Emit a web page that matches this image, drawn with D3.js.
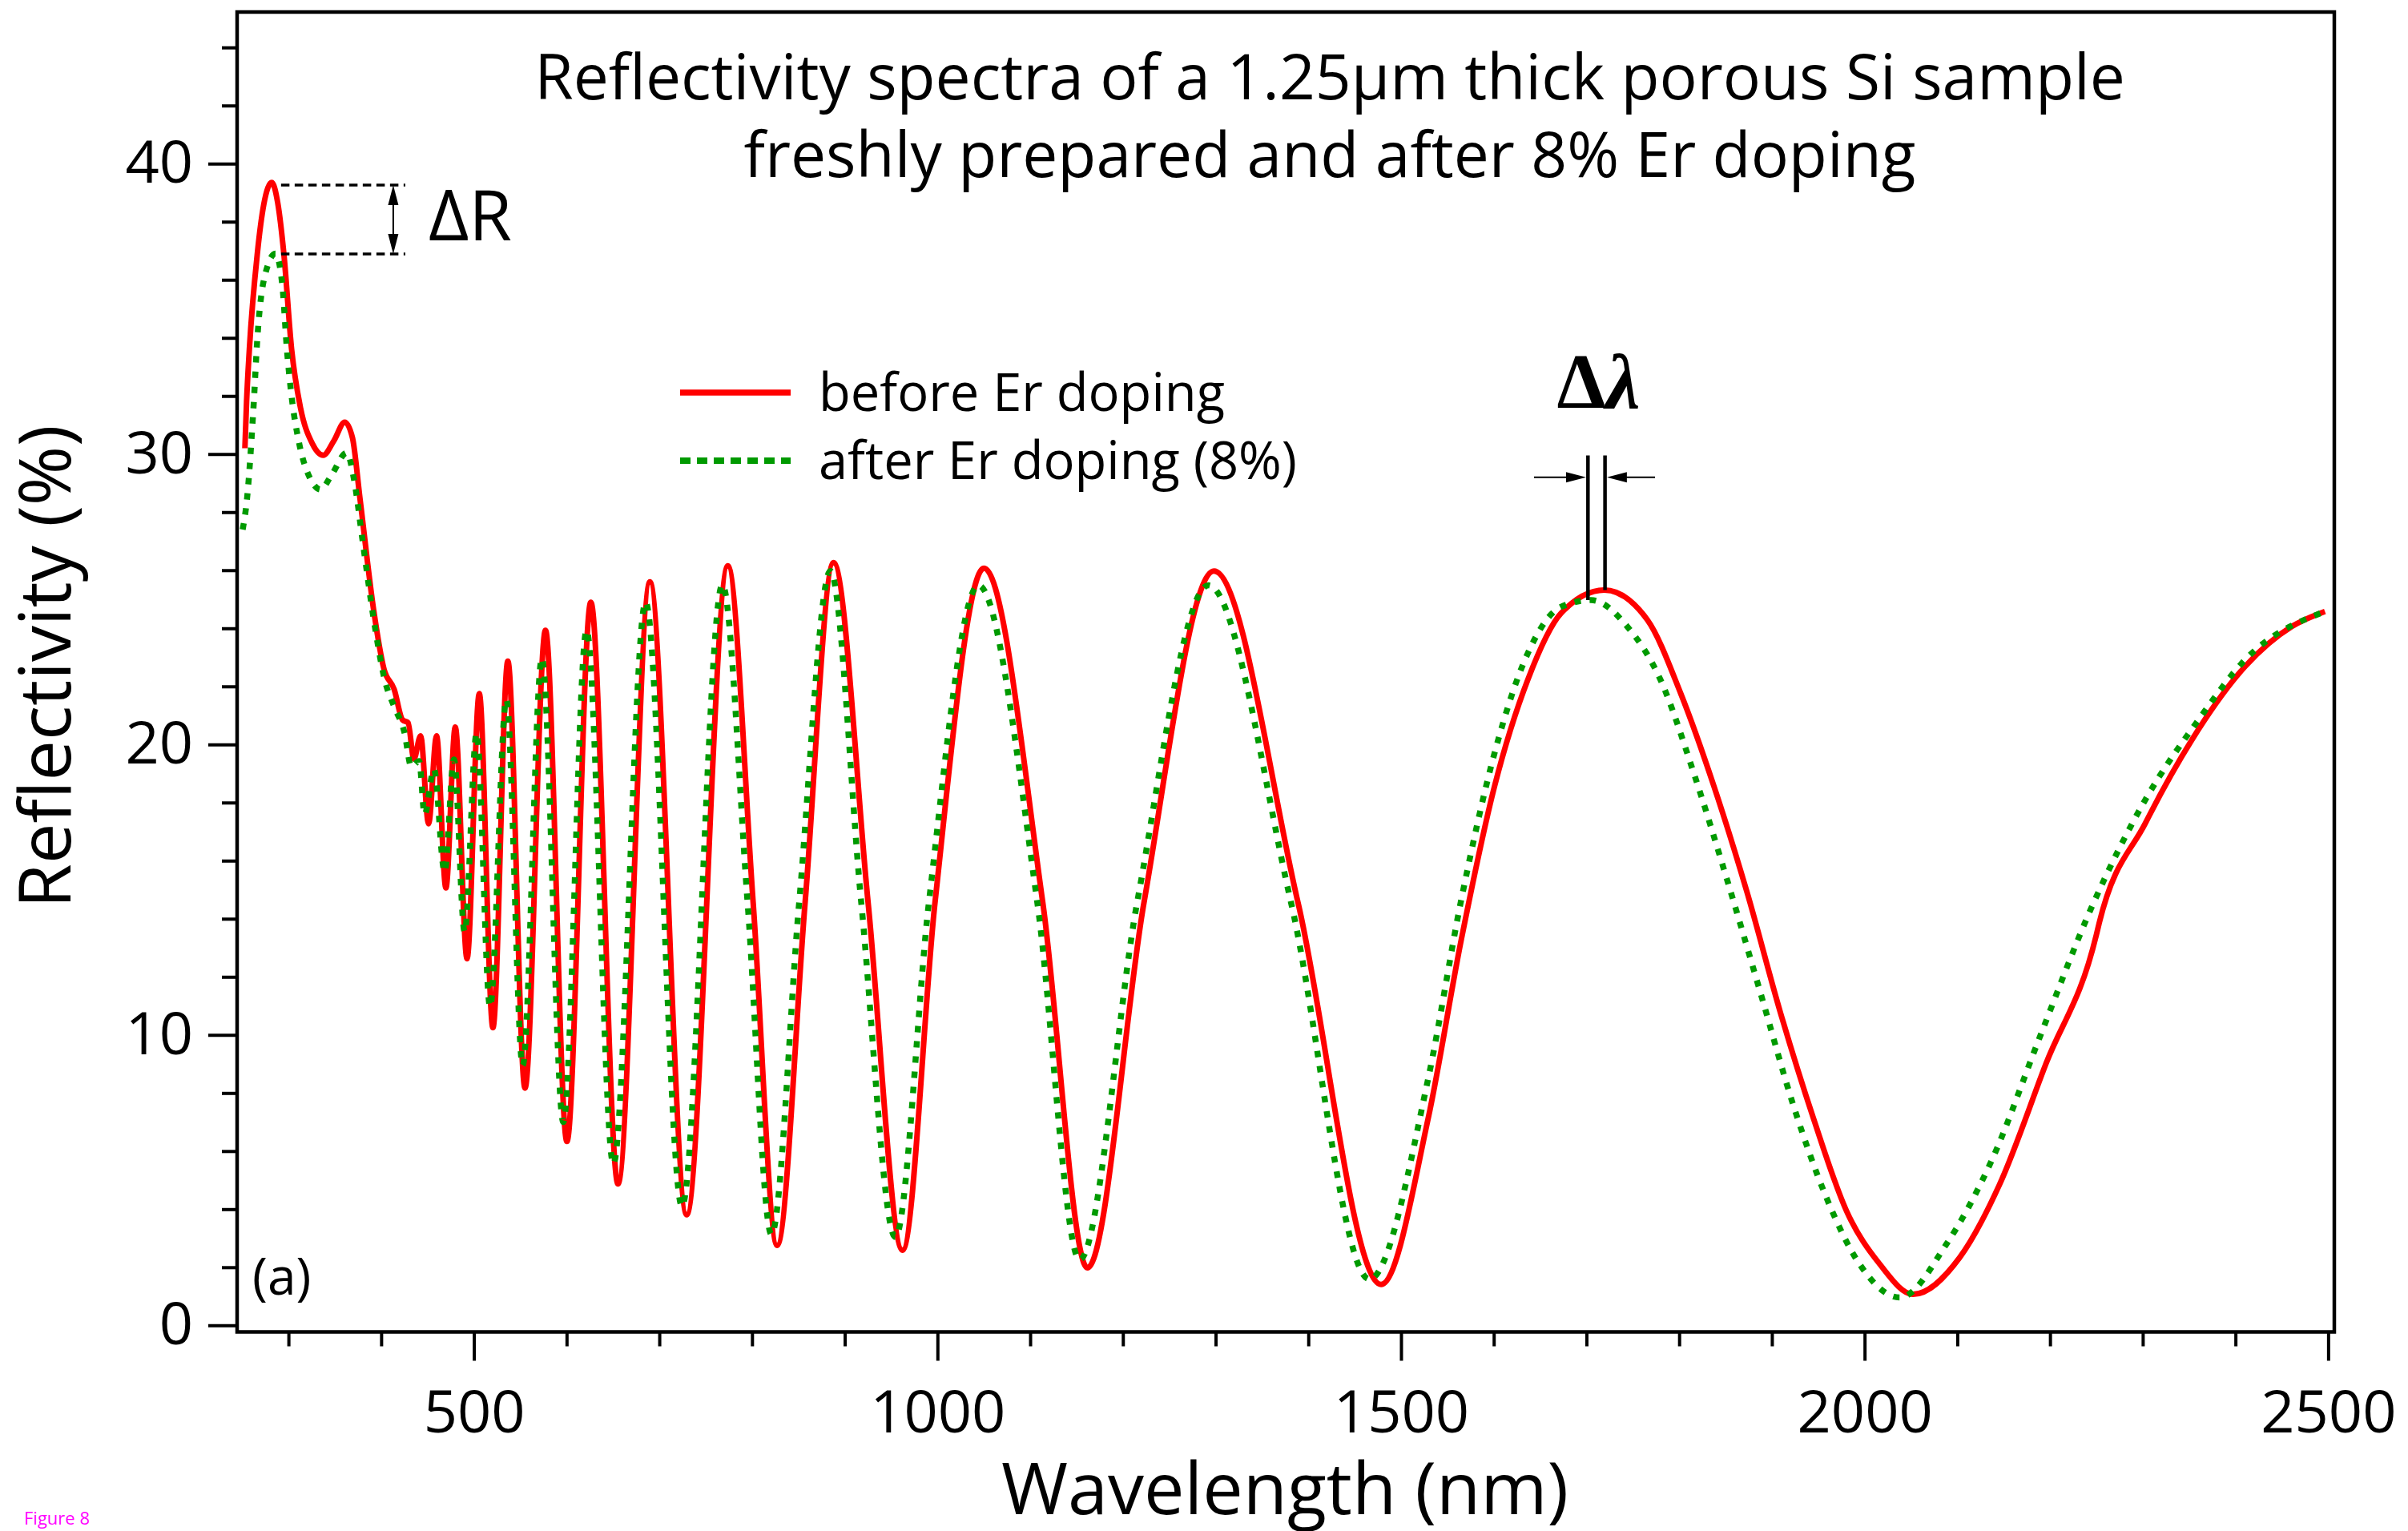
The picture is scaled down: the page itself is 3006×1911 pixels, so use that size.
<!DOCTYPE html>
<html>
<head>
<meta charset="utf-8">
<script src="https://cdn.jsdelivr.net/npm/d3@7"></script>
<style>
  body { margin: 0; background: #fff; }
  svg { display: block; font-family: 'Open Sans', sans-serif; }
  .tick line { stroke: #000; stroke-width: 4; }
  .tick text { font-size: 74px; fill: #000; font-family: 'Open Sans', sans-serif; }
</style>
</head>
<body>
<svg id="chart"></svg>
<script>
// reflectivity before Er doping (wavelength nm, R %)
const beforeWl = [253, 254.8, 257.8, 266.4, 273.4, 282, 288.4, 295, 303.4, 312.6, 325.9, 337.4, 349, 360.7, 369, 377,
  392, 403, 414, 423, 429, 435.3, 442.5, 451.1, 459.7, 469.8, 479.9, 492.6, 505.8, 520.5, 536.6, 555.1, 577.2,
  600.3, 626.1, 655.4, 689.8, 729.5, 773.9, 801.2, 827, 857.2, 887.9, 925.2, 962.3, 997.3, 1050.2, 1113.6,
  1161.7, 1222.7, 1298.2, 1388.9, 1478.5, 1529.3, 1565.1, 1600.9, 1636.7, 1672.6, 1719.2, 1765.7, 1801.5,
  1837.4, 1873.2, 1909, 1944.8, 1980.6, 2016.5, 2052.2, 2102.4, 2145.4, 2195.5, 2250, 2253, 2303, 2353.2,
  2410.5, 2460.7, 2496.5];
const beforeR = [30.2, 31.8, 33.6, 36.9, 38.6, 39.35, 38.65, 36.9, 33.6, 31.65, 30.35, 29.96, 30.46, 31.1, 30.56, 28.5,
  24.6, 22.6, 21.9, 20.85, 20.75, 19.5, 20.3, 17.27, 20.3, 15.06, 20.6, 12.62, 21.75, 10.25, 22.87, 8.17, 23.93,
  6.33, 24.9, 4.87, 25.6, 3.81, 26.15, 14.55, 2.75, 14.55, 26.26, 14.55, 2.59, 14.55, 26.07, 14.55,
  1.98, 14.55, 25.97, 14.55, 1.41, 7.13, 13.3, 18.57, 22.23, 24.52, 25.32, 24.29, 21.77,
  18.57, 14.91, 10.79, 7.13, 3.93, 2.1, 1.07, 2.33, 4.84, 9.0, 13.45, 13.85, 17.3, 20.17,
  22.69, 24.06, 24.58];

// reflectivity after 8% Er doping
const afterWl = [250.6, 255.4, 262, 266.9, 273.5, 286, 293.4, 298.3, 303.3, 311.6, 323.2, 334.7, 346.3, 362.8, 371.1,
  380, 392, 404, 414, 425.2, 432.4, 441, 446.8, 456.9, 468.4, 478.5, 490, 502.9, 517.4, 535, 552.6, 573.3,
  596.4, 621.5, 650.4, 685.2, 724.4, 768, 795.2, 820.9, 850.8, 884.5, 917.8, 954.5, 990.7, 1044.2, 1107.7,
  1153.3, 1215.3, 1292.2, 1381.4, 1465.8, 1529.3, 1565.1, 1600.9, 1636.7, 1672.6, 1705, 1744, 1779.8,
  1815.6, 1851.4, 1887.4, 1923, 1958.9, 1994.7, 2037.9, 2088.1, 2138.2, 2188.4, 2245.6, 2303, 2360.4,
  2410.5, 2496.5];
const afterR = [27.4, 28.5, 31.46, 34.2, 36.0, 36.9, 35.8, 33.6, 32.0, 30.36, 29.17, 28.78, 29.27, 30.04, 29.05,
  27.0, 24.3, 22.2, 21.3, 20.4, 19.24, 19.43, 17.59, 19.15, 15.61, 19.48, 13.54, 20.39, 10.97, 21.55, 8.95, 22.97,
  7.0, 23.93, 5.56, 24.9, 4.1, 25.5, 14.55, 3.13, 14.55, 25.97, 14.55, 3.04, 14.55, 25.48, 14.55,
  2.26, 14.55, 25.48, 14.55, 1.59, 8.5, 14.68, 19.71, 23.14, 24.74, 24.97, 24.06, 22.23,
  19.03, 15.37, 11.48, 7.59, 4.39, 2.1, 0.96, 2.79, 5.76, 9.88, 14.45, 18.11, 20.86,
  22.92, 24.58];

const seriesNames = ['before Er doping', 'after Er doping (8%)'];
const seriesColors = ['#ff0000', '#009a00'];

const xMajorTicks = [500, 1000, 1500, 2000, 2500];
const xMinorTicks = [300, 400, 600, 700, 800, 900, 1100, 1200, 1300, 1400, 1600, 1700, 1800, 1900,
  2100, 2200, 2300, 2400];
const yMajorTicks = [0, 10, 20, 30, 40];
const yMinorTicks = [2, 4, 6, 8, 12, 14, 16, 18, 22, 24, 26, 28, 32, 34, 36, 38, 42, 44];

const titleLines = ['Reflectivity spectra of a 1.25\u03bcm thick porous Si sample',
  'freshly prepared and after 8% Er doping'];

// annotation values
const deltaR = { top: 39.26, bottom: 36.89, from: 292, to: 426, arrowAt: 413 };
const deltaLambda = { green: 1701.6, greenPeak: 24.97, red: 1720, redPeak: 25.32, top: 29.95, arrowY: 29.2 };

class ReflectivityChart {

    constructor(_config) {
        this.config = {
            parentElement: _config.parentElement,
            containerWidth: _config.containerWidth || 3006,
            containerHeight: _config.containerHeight || 1911,
        };
        this.config.margin = _config.margin || { top: 15, right: 92, bottom: 248.5, left: 296 };
        this.initVis();
    }

    initVis() {
        let vis = this;
        const m = vis.config.margin;

        vis.width = vis.config.containerWidth - m.left - m.right;
        vis.height = vis.config.containerHeight - m.top - m.bottom;

        vis.svg = d3.select(vis.config.parentElement)
            .attr('width', vis.config.containerWidth)
            .attr('height', vis.config.containerHeight);

        vis.chart = vis.svg.append('g')
            .attr('transform', `translate(${m.left}, ${m.top})`);

        vis.xScale = d3.scaleLinear()
            .domain([244.6, 2506.6])
            .range([0, vis.width]);

        vis.yScale = d3.scaleLinear()
            .domain([-0.226, 45.22])
            .range([vis.height, 0]);

        // minor ticks first, majors with labels on top
        vis.chart.append('g')
            .attr('transform', `translate(0, ${vis.height})`)
            .call(d3.axisBottom(vis.xScale).tickValues(xMinorTicks).tickSize(18).tickFormat(''))
            .call(g => g.select('.domain').remove());

        vis.chart.append('g')
            .attr('transform', `translate(0, ${vis.height})`)
            .call(d3.axisBottom(vis.xScale).tickValues(xMajorTicks).tickSize(36).tickPadding(37).tickFormat(d3.format('d')))
            .call(g => g.select('.domain').remove());

        vis.chart.append('g')
            .call(d3.axisLeft(vis.yScale).tickValues(yMinorTicks).tickSize(19).tickFormat(''))
            .call(g => g.select('.domain').remove());

        vis.chart.append('g')
            .call(d3.axisLeft(vis.yScale).tickValues(yMajorTicks).tickSize(36).tickPadding(19).tickFormat(d3.format('d')))
            .call(g => g.select('.domain').remove());

        // frame
        vis.chart.append('rect')
            .attr('x', 0).attr('y', 0)
            .attr('width', vis.width).attr('height', vis.height)
            .attr('fill', 'none')
            .attr('stroke', '#000')
            .attr('stroke-width', 4.5);

        vis.svg.append('text')
            .attr('x', 1604)
            .attr('y', 1890)
            .attr('text-anchor', 'middle')
            .attr('font-size', 90)
            .text('Wavelength (nm)');

        vis.svg.append('text')
            .attr('transform', 'translate(88, 832) rotate(-90)')
            .attr('text-anchor', 'middle')
            .attr('font-size', 90)
            .text('Reflectivity (%)');

        vis.svg.append('g')
            .selectAll('text')
            .data(titleLines)
            .join('text')
                .attr('x', 1660)
                .attr('y', (d, i) => 124 + i * 97)
                .attr('text-anchor', 'middle')
                .attr('font-size', 78.5)
                .text(d => d);

        vis.svg.append('text')
            .attr('x', 315)
            .attr('y', 1616)
            .attr('font-size', 64)
            .text('(a)');

        vis.svg.append('text')
            .attr('x', 30)
            .attr('y', 1903)
            .attr('font-size', 22)
            .attr('fill', '#ff00ff')
            .text('Figure 8');
    }

    arrowHead(g, x, y, dx, dy) {
        // filled triangle, tip at (x, y), pointing along (dx, dy)
        const len = 25, hw = 6.5;
        const bx = x - dx * len, by = y - dy * len;
        const px = -dy * hw, py = dx * hw;
        g.append('path')
            .attr('d', `M${x},${y}L${bx + px},${by + py}L${bx - px},${by - py}Z`)
            .attr('fill', '#000');
    }

    render() {
        let vis = this;

        const line = d3.line()
            .x(d => vis.xScale(d[0]))
            .y(d => vis.yScale(d[1]))
            .curve(d3.curveMonotoneX);

        const series = [
            { name: seriesNames[0], values: d3.zip(beforeWl, beforeR), color: seriesColors[0], dash: null, width: 7 },
            { name: seriesNames[1], values: d3.zip(afterWl, afterR), color: seriesColors[1], dash: '8,11', width: 7.5 },
        ];

        // draw dotted on top so both stay visible
        vis.chart.append('g')
            .selectAll('path')
            .data(series)
            .join('path')
                .attr('d', d => line(d.values))
                .attr('fill', 'none')
                .attr('stroke', d => d.color)
                .attr('stroke-width', d => d.width)
                .attr('stroke-dasharray', d => d.dash)
                .attr('stroke-linejoin', 'round');

        // legend
        const legend = vis.svg.append('g');
        const legendItems = legend.selectAll('g')
            .data(series)
            .join('g')
                .attr('transform', (d, i) => `translate(849, ${490 + i * 85})`);
        legendItems.append('line')
            .attr('x1', 0).attr('x2', 138)
            .attr('stroke', d => d.color)
            .attr('stroke-width', d => d.width + 0.5)
            .attr('stroke-dasharray', d => d.dash ? '13,8' : null);
        legendItems.append('text')
            .attr('x', 173)
            .attr('y', 23)
            .attr('font-size', 65)
            .text(d => d.name);

        // delta R marker
        const ann = vis.chart.append('g');
        [deltaR.top, deltaR.bottom].forEach(v => {
            ann.append('line')
                .attr('x1', vis.xScale(deltaR.from)).attr('x2', vis.xScale(deltaR.to))
                .attr('y1', vis.yScale(v)).attr('y2', vis.yScale(v))
                .attr('stroke', '#000')
                .attr('stroke-width', 3.5)
                .attr('stroke-dasharray', '10.5,6.5');
        });
        const ax = vis.xScale(deltaR.arrowAt);
        ann.append('line')
            .attr('x1', ax).attr('x2', ax)
            .attr('y1', vis.yScale(deltaR.top) + 20).attr('y2', vis.yScale(deltaR.bottom) - 20)
            .attr('stroke', '#000').attr('stroke-width', 2);
        vis.arrowHead(ann, ax, vis.yScale(deltaR.top), 0, -1);
        vis.arrowHead(ann, ax, vis.yScale(deltaR.bottom), 0, 1);
        ann.append('text')
            .attr('x', vis.xScale(451))
            .attr('y', vis.yScale(37.35))
            .attr('font-size', 87)
            .text('\u0394R');

        // delta lambda marker
        const gx = vis.xScale(deltaLambda.green), rx = vis.xScale(deltaLambda.red);
        const topY = vis.yScale(deltaLambda.top), arY = vis.yScale(deltaLambda.arrowY);
        ann.append('line')
            .attr('x1', gx).attr('x2', gx)
            .attr('y1', topY).attr('y2', vis.yScale(deltaLambda.greenPeak))
            .attr('stroke', '#000').attr('stroke-width', 4.5);
        ann.append('line')
            .attr('x1', rx).attr('x2', rx)
            .attr('y1', topY).attr('y2', vis.yScale(deltaLambda.redPeak))
            .attr('stroke', '#000').attr('stroke-width', 4.5);
        ann.append('line')
            .attr('x1', vis.xScale(1643.4)).attr('x2', gx - 15)
            .attr('y1', arY).attr('y2', arY)
            .attr('stroke', '#000').attr('stroke-width', 2);
        vis.arrowHead(ann, gx - 2.3, arY, 1, 0);
        ann.append('line')
            .attr('x1', vis.xScale(1773.9)).attr('x2', rx + 15)
            .attr('y1', arY).attr('y2', arY)
            .attr('stroke', '#000').attr('stroke-width', 2);
        vis.arrowHead(ann, rx + 2.3, arY, -1, 0);

        const dl = ann.append('text')
            .attr('x', vis.xScale(1713))
            .attr('y', vis.yScale(31.6))
            .attr('text-anchor', 'middle')
            .attr('font-family', "'Liberation Serif', 'DejaVu Serif', serif")
            .attr('font-weight', 'bold')
            .attr('font-size', 97);
        dl.append('tspan').text('\u0394');
        dl.append('tspan').attr('font-style', 'italic').text('\u03bb');
    }
}

const chart = new ReflectivityChart({ parentElement: '#chart' });
chart.render();
</script>
</body>
</html>
